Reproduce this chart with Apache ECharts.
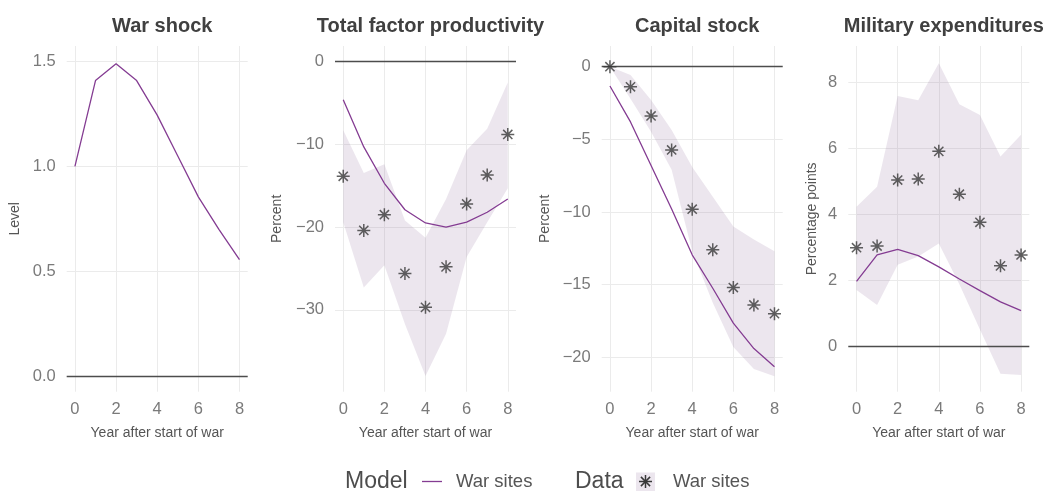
<!DOCTYPE html>
<html>
<head>
<meta charset="utf-8">
<script src="https://cdn.jsdelivr.net/npm/echarts@6/dist/echarts.min.js"></script>
<style>
  html, body { margin: 0; padding: 0; background: #ffffff; }
  #chart { width: 1044px; height: 491px; }
</style>
</head>
<body>
<div id="chart"></div>
<script>
// Years since the start of the war
const years = [0, 1, 2, 3, 4, 5, 6, 7, 8];
const xTicks = [0, 2, 4, 6, 8];

// Panel 1: war shock (model only)
const warShockModel = [1.0, 1.41, 1.49, 1.41, 1.245, 1.05, 0.855, 0.70, 0.555];

// Panel 2: total factor productivity (percent)
const tfpModel = [-4.6, -10.3, -14.7, -17.9, -19.5, -20.0, -19.4, -18.2, -16.6];
const tfpData  = [-13.85, -20.4, -18.5, -25.6, -29.7, -24.8, -17.2, -13.7, -8.8];
const tfpUpper = [-8.3, -13.45, -12.4, -19.2, -21.3, -16.6, -10.7, -8.1, -2.5];
const tfpLower = [-19.4, -27.3, -24.6, -31.7, -38.0, -32.9, -23.6, -19.4, -15.3];

// Panel 3: capital stock (percent)
const capModel = [-1.33, -3.8, -6.8, -9.8, -12.95, -15.25, -17.65, -19.4, -20.65];
const capData  = [0, -1.38, -3.39, -5.73, -9.81, -12.6, -15.2, -16.4, -17.0];
const capUpper = [0.0, -0.57, -2.3, -4.36, -6.9, -8.95, -11.0, -11.9, -12.7];
const capLower = [0.0, -2.2, -4.48, -7.1, -12.7, -16.25, -19.3, -20.8, -21.3];

// Panel 4: military expenditures (percentage points)
const milModel = [1.98, 2.78, 2.95, 2.76, 2.42, 2.05, 1.70, 1.36, 1.09];
const milData  = [3.0, 3.05, 5.05, 5.08, 5.92, 4.62, 3.77, 2.45, 2.78];
const milUpper = [4.24, 4.85, 7.6, 7.47, 8.59, 7.35, 7.02, 5.76, 6.42];
const milLower = [1.72, 1.26, 2.48, 2.73, 3.13, 1.89, 0.52, -0.82, -0.86];

// Tick values per panel
const yTicks1 = [0, 0.5, 1.0, 1.5];
const yTicks2 = [0, -10, -20, -30];
const yTicks3 = [0, -5, -10, -15, -20];
const yTicks4 = [0, 2, 4, 6, 8];

const titles = ['War shock', 'Total factor productivity', 'Capital stock', 'Military expenditures'];
const yNames = ['Level', 'Percent', 'Percent', 'Percentage points'];
const xName = 'Year after start of war';
const legendModel = 'Model';
const legendData = 'Data';
const seriesLabel = 'War sites';

// Styling
const FONT = '"Liberation Sans", Arial, sans-serif';
const PURPLE = '#843c92';
const RIBBON = 'rgba(128, 88, 142, 0.15)';
const STAR = '#383838';
const ZERO = '#4d4d4d';
const GRID = '#ebebeb';
const TICK_TEXT = '#7a7a7a';
const NAME_TEXT = '#555555';
const TITLE_TEXT = '#404040';

const STAR_PATH = 'path://M0,-10L0,10M-10,0L10,0M-7.07,-7.07L7.07,7.07M-7.07,7.07L7.07,-7.07';

const panelLeft = [66.7, 335, 601.7, 848.3];
const panelWidth = 181;
const panelTop = 46;
const panelHeight = 345.7;

const yRanges = [
  [-0.075, 1.575],
  [-39.9, 1.9],
  [-22.37, 1.425],
  [-1.364, 9.112]
];
const yTickSets = [yTicks1, yTicks2, yTicks3, yTicks4];
const yNameGaps = [45, 51, 50, 29];

function fmtSigned(v) {
  return v < 0 ? '\u2212' + Math.abs(v) : String(v);
}
const yFormatters = [
  v => v.toFixed(1),
  fmtSigned,
  fmtSigned,
  fmtSigned
];

const grids = [], xAxes = [], yAxes = [], titleList = [];
for (let p = 0; p < 4; p++) {
  grids.push({ left: panelLeft[p], top: panelTop, width: panelWidth, height: panelHeight, containLabel: false });
  xAxes.push({
    type: 'value', gridIndex: p, min: -0.4, max: 8.4,
    name: xName, nameLocation: 'middle', nameGap: 34,
    nameTextStyle: { color: NAME_TEXT, fontSize: 14, fontFamily: FONT },
    axisLine: { show: false },
    axisTick: { show: false, customValues: xTicks },
    axisLabel: { customValues: xTicks, color: TICK_TEXT, fontSize: 16.5, fontFamily: FONT, margin: 9 },
    splitLine: { show: true, lineStyle: { color: GRID, width: 1 } }
  });
  yAxes.push({
    type: 'value', gridIndex: p, min: yRanges[p][0], max: yRanges[p][1],
    name: yNames[p], nameLocation: 'middle', nameGap: yNameGaps[p],
    nameTextStyle: { color: NAME_TEXT, fontSize: 14, fontFamily: FONT },
    axisLine: { show: false },
    axisTick: { show: false, customValues: yTickSets[p] },
    axisLabel: { customValues: yTickSets[p], color: TICK_TEXT, fontSize: 16.5, fontFamily: FONT, margin: 11, formatter: yFormatters[p] },
    splitLine: { show: true, lineStyle: { color: GRID, width: 1 } }
  });
  titleList.push({
    text: titles[p],
    left: panelLeft[p] + panelWidth / 2,
    top: 11,
    textAlign: 'center',
    textStyle: { color: TITLE_TEXT, fontSize: 20, fontWeight: 'bold', fontFamily: FONT }
  });
}

function pairs(vals) { return years.map((x, i) => [x, vals[i]]); }

function ribbonSeries(p, upper, lower) {
  return {
    type: 'custom', xAxisIndex: p, yAxisIndex: p, z: 1, silent: true,
    data: years.map((x, i) => [x, upper[i], lower[i]]),
    renderItem: function (params, api) {
      if (params.dataIndex !== 0) return null;
      const pts = [];
      for (let i = 0; i < years.length; i++) pts.push(api.coord([years[i], upper[i]]));
      for (let i = years.length - 1; i >= 0; i--) pts.push(api.coord([years[i], lower[i]]));
      return { type: 'polygon', shape: { points: pts }, style: { fill: RIBBON } };
    }
  };
}

function modelSeries(p, vals) {
  return {
    type: 'line', xAxisIndex: p, yAxisIndex: p, z: 3, silent: true,
    data: pairs(vals), showSymbol: false, symbol: 'none',
    lineStyle: { color: PURPLE, width: 1.3 },
    markLine: {
      silent: true, symbol: 'none', label: { show: false },
      lineStyle: { color: ZERO, width: 1.3, type: 'solid' },
      data: [{ yAxis: 0 }],
      z: 2
    }
  };
}

function dataSeries(p, vals) {
  return {
    type: 'scatter', xAxisIndex: p, yAxisIndex: p, z: 4, silent: true,
    data: pairs(vals), symbol: STAR_PATH, symbolSize: 13,
    itemStyle: { color: 'rgba(0,0,0,0)', borderColor: STAR, borderWidth: 1.5 }
  };
}

const series = [
  modelSeries(0, warShockModel),
  ribbonSeries(1, tfpUpper, tfpLower),
  modelSeries(1, tfpModel),
  dataSeries(1, tfpData),
  ribbonSeries(2, capUpper, capLower),
  modelSeries(2, capModel),
  dataSeries(2, capData),
  ribbonSeries(3, milUpper, milLower),
  modelSeries(3, milModel),
  dataSeries(3, milData)
];

// Legend drawn along the bottom
const legendY = 481.5;
const starR = 6.5, starD = starR * 0.7071;
const starCx = 645.5;
function legendText(x, text, size, color) {
  return {
    type: 'text', x: x, y: legendY,
    style: { text: text, fill: color, font: size + 'px ' + FONT, verticalAlign: 'middle', align: 'left' }
  };
}
const graphics = [
  legendText(345, legendModel, 23, '#4d4d4d'),
  { type: 'line', shape: { x1: 422, y1: legendY, x2: 442, y2: legendY }, style: { stroke: PURPLE, lineWidth: 1.3 } },
  legendText(456, seriesLabel, 18.5, '#555555'),
  legendText(575, legendData, 23, '#4d4d4d'),
  { type: 'rect', shape: { x: 636, y: 472.5, width: 19, height: 18.5 }, style: { fill: RIBBON } },
  { type: 'line', shape: { x1: starCx, y1: legendY - starR, x2: starCx, y2: legendY + starR }, style: { stroke: STAR, lineWidth: 1.5 } },
  { type: 'line', shape: { x1: starCx - starR, y1: legendY, x2: starCx + starR, y2: legendY }, style: { stroke: STAR, lineWidth: 1.5 } },
  { type: 'line', shape: { x1: starCx - starD, y1: legendY - starD, x2: starCx + starD, y2: legendY + starD }, style: { stroke: STAR, lineWidth: 1.5 } },
  { type: 'line', shape: { x1: starCx - starD, y1: legendY + starD, x2: starCx + starD, y2: legendY - starD }, style: { stroke: STAR, lineWidth: 1.5 } },
  legendText(673, seriesLabel, 18.5, '#555555')
];

const chart = echarts.init(document.getElementById('chart'), null, { renderer: 'canvas' });
chart.setOption({
  animation: false,
  backgroundColor: '#ffffff',
  title: titleList,
  grid: grids,
  xAxis: xAxes,
  yAxis: yAxes,
  series: series,
  graphic: graphics
});
</script>
</body>
</html>
